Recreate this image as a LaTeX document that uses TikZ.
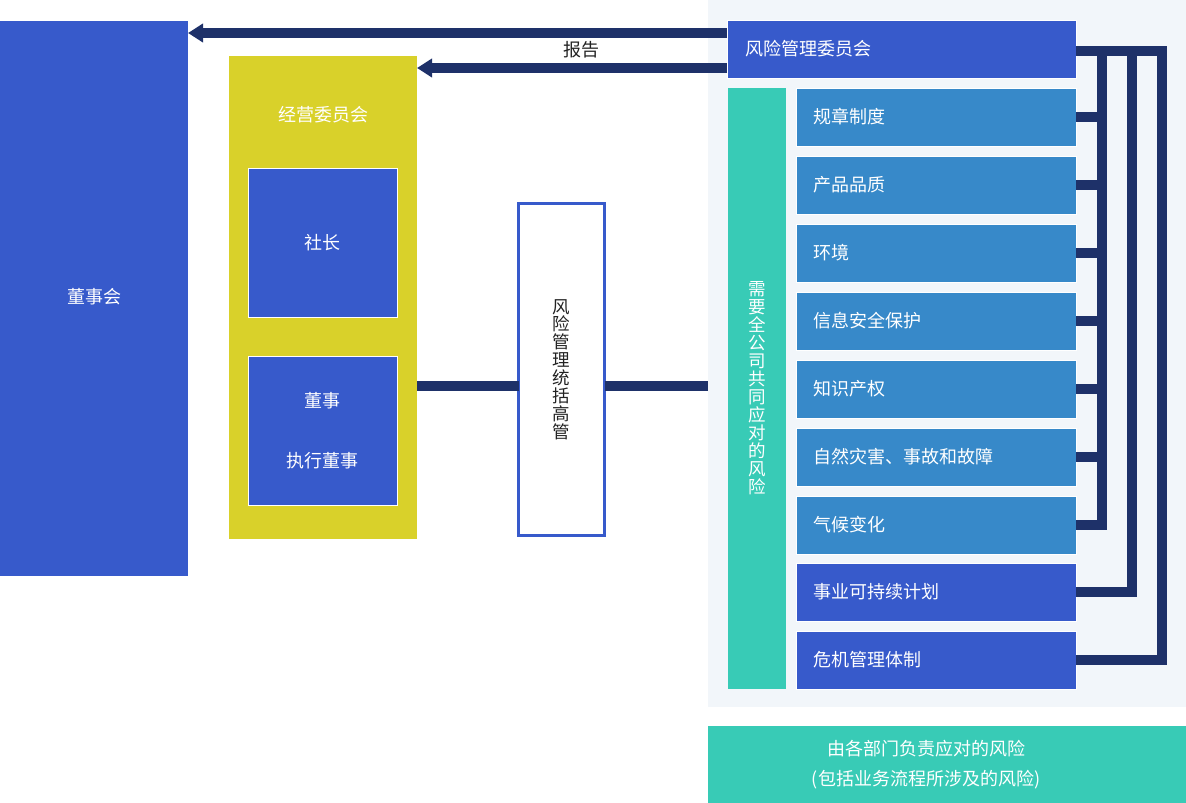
\documentclass[tikz,border=0pt]{standalone}
\usepackage{fontspec}
\setmainfont{Noto Sans CJK SC}
\usetikzlibrary{arrows.meta}
\definecolor{royal}{HTML}{375ACB}
\definecolor{midblue}{HTML}{3789C9}
\definecolor{tealc}{HTML}{38CBB6}
\definecolor{mustard}{HTML}{D9D12A}
\definecolor{navy}{HTML}{1E3169}
\definecolor{pale}{HTML}{F2F6FA}
\definecolor{ink}{HTML}{222222}
\begin{document}
\begin{tikzpicture}[x=1pt,y=-1pt,
  box/.style={rectangle,inner sep=0pt,outer sep=0pt,anchor=north west},
  txt/.style={font=\fontsize{18pt}{20pt}\selectfont},
  whitetxt/.style={txt,text=white},
  riskitem/.style={box,minimum width=280pt,minimum height=58pt,fill=midblue,draw=white,line width=1pt,
    whitetxt,align=left,text width=246pt,inner xsep=17pt},
  conn/.style={draw=navy,line width=10pt},
  arr/.style={conn,-{Triangle[length=15pt,width=18pt]}},
  bracket/.style={conn,line join=miter}]
\useasboundingbox (0,0) rectangle (1186,803);
% light zone
\node[box,fill=pale,minimum width=478pt,minimum height=707pt] (zone) at (708,0) {};
% board
\node[box,fill=royal,minimum width=188pt,minimum height=555pt,whitetxt] (board) at (0,21) {\raisebox{5pt}{董事会}};
% executive committee
\node[box,fill=mustard,minimum width=188pt,minimum height=483pt] (ec) at (229,56) {};
\node[whitetxt] (ectitle) at (323,115) {经营委员会};
\node[box,fill=royal,draw=white,line width=1pt,minimum width=149pt,minimum height=149pt,whitetxt] (pres) at (248,168) {\raisebox{-3pt}{社长}};
\node[box,fill=royal,draw=white,line width=1pt,minimum width=149pt,minimum height=149pt,text=white,
  font=\fontsize{18pt}{60pt}\selectfont,align=center] (dirs) at (248,356) {\raisebox{-2pt}{董事}\\\raisebox{-2pt}{执行董事}};
% CRO
\node[box,fill=white,draw=royal,line width=3pt,minimum width=86pt,minimum height=332pt,text=ink,
  font=\fontsize{17.5pt}{18pt}\selectfont,align=center] (cro) at (518.5,203.5) {\raisebox{-3pt}{风}\\险\\管\\理\\统\\括\\高\\管};
% risk management committee
\node[box,fill=royal,draw=white,line width=1pt,minimum width=349pt,minimum height=58pt,whitetxt,
  align=left,text width=313pt,inner xsep=18pt] (rmc) at (727,20) {风险管理委员会};
% company-wide column
\node[box,fill=tealc,minimum width=58pt,minimum height=601pt,text=white,
  font=\fontsize{17.5pt}{18pt}\selectfont,align=center] (cw) at (728,88)
  {需\\要\\全\\公\\司\\共\\同\\应\\对\\的\\风\\险};
% items
\node[riskitem] (i1) at (796,88) {规章制度};
\node[riskitem] (i2) at (796,156) {产品品质};
\node[riskitem] (i3) at (796,224) {环境};
\node[riskitem] (i4) at (796,292) {信息安全保护};
\node[riskitem] (i5) at (796,360) {知识产权};
\node[riskitem] (i6) at (796,428) {自然灾害、事故和故障};
\node[riskitem] (i7) at (796,496) {气候变化};
\node[riskitem,fill=royal] (i8) at (796,563) {事业可持续计划};
\node[riskitem,fill=royal] (i9) at (796,631) {危机管理体制};
% departmental risks
\node[box,fill=tealc,minimum width=478pt,minimum height=77pt] (dept) at (708,726) {};
\node[text=white,font=\fontsize{18pt}{30pt}\selectfont,align=center] (depttxt) at ([xshift=-21pt]dept.center)
  {由各部门负责应对的风险\\(包括业务流程所涉及的风险)};
% report arrows
\draw[arr] (rmc.west |- 0,33) -- (board.east |- 0,33);
\draw[arr] (rmc.west |- 0,68) -- (ec.east |- 0,68);
\node[txt,text=ink] (report) at (581,50) {报告};
% CRO links
\draw[conn] (ec.east |- 0,386) -- (cro.west |- 0,386);
\draw[conn] (cro.east |- 0,386) -- (zone.west |- 0,386);
% brackets
\coordinate (v1) at (1102,51);
\coordinate (v2) at (1132,51);
\coordinate (v3) at (1162,51);
\draw[bracket] (rmc.east |- v3) -- (v3) -- (v3 |- i9.east) -- (i9.east);
\draw[bracket] (v2) -- (v2 |- i8.east) -- (i8.east);
\draw[bracket] (v1) -- (v1 |- i7.east) -- (i7.east);
\foreach \n in {i1,i2,i3,i4,i5,i6}{
  \draw[conn] (\n.east) -- (\n.east -| v1);
}
\end{tikzpicture}
\end{document}
